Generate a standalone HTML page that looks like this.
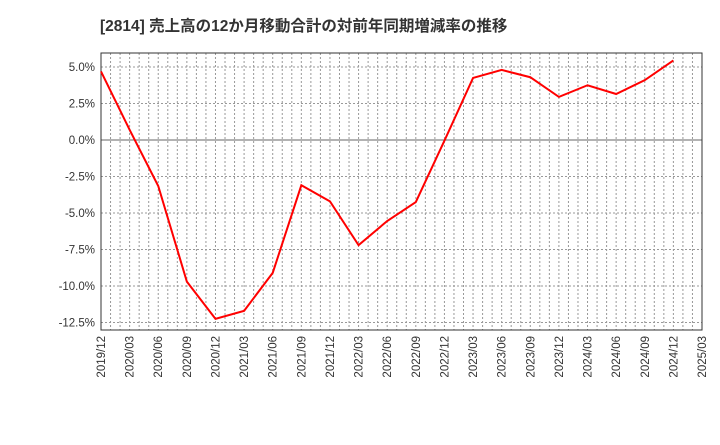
<!DOCTYPE html>
<html><head><meta charset="utf-8"><style>
body{margin:0;background:#fff;width:720px;height:440px;overflow:hidden}
text{font-family:"Liberation Sans","Noto Sans CJK JP",sans-serif}
</style></head><body>
<svg id="c" width="720" height="440" xmlns="http://www.w3.org/2000/svg">
<text x="100" y="31" font-size="15.5" font-weight="bold" fill="#333">[2814]  売上高の12か月移動合計の対前年同期増減率の推移</text>
</svg>
<script>
const categories=["2019/12","2020/03","2020/06","2020/09","2020/12","2021/03","2021/06","2021/09","2021/12","2022/03","2022/06","2022/09","2022/12","2023/03","2023/06","2023/09","2023/12","2024/03","2024/06","2024/09","2024/12","2025/03"];
const values=[4.7,0.7,-3.15,-9.7,-12.25,-11.7,-9.1,-3.1,-4.2,-7.2,-5.55,-4.25,-0.05,4.25,4.8,4.3,2.95,3.75,3.15,4.1,5.45];
const yTicks=[5,2.5,0,-2.5,-5,-7.5,-10,-12.5];
const yTickLabels=["5.0%","2.5%","0.0%","-2.5%","-5.0%","-7.5%","-10.0%","-12.5%"];
const L=101,R=702,T=53,B=330;
const svg=document.getElementById('c');
const NS="http://www.w3.org/2000/svg";
const xs=i=>L+(R-L)*i/(categories.length-1);
const ys=v=>140-v*(36.5/2.5);
function mk(t,a){const e=document.createElementNS(NS,t);for(const k in a)e.setAttribute(k,a[k]);svg.appendChild(e);return e;}
for(let m=1;m<(categories.length-1)*3;m++){const x=L+(R-L)*m/((categories.length-1)*3);
const g=mk('line',{x1:x,x2:x,y1:T,y2:B,stroke:'#999','stroke-dasharray':'2,2','stroke-width':1});

}
yTicks.forEach((v,i)=>{const y=ys(v);
const g=mk('line',{x1:L,x2:R,y1:y,y2:y,stroke:v===0?'#666':'#999','stroke-dasharray':v===0?'none':'2,2','stroke-width':1});


const t=mk('text',{x:L-6,y:y+4,'text-anchor':'end','font-size':11.5,fill:'#333'});t.textContent=yTickLabels[i];

});
categories.forEach((c,i)=>{const x=xs(i);
const t=mk('text',{x:0,y:0,'text-anchor':'end','font-size':11.5,fill:'#333',transform:`translate(${x+4},${B+6}) rotate(-90)`});t.textContent=c;

});
const f=mk('rect',{x:L,y:T,width:R-L,height:B-T,fill:'none',stroke:'#333','stroke-width':1});


const p=mk('polyline',{points:values.map((v,i)=>xs(i)+','+ys(v)).join(' '),fill:'none',stroke:'#f00','stroke-width':2});


</script>
</body></html>
